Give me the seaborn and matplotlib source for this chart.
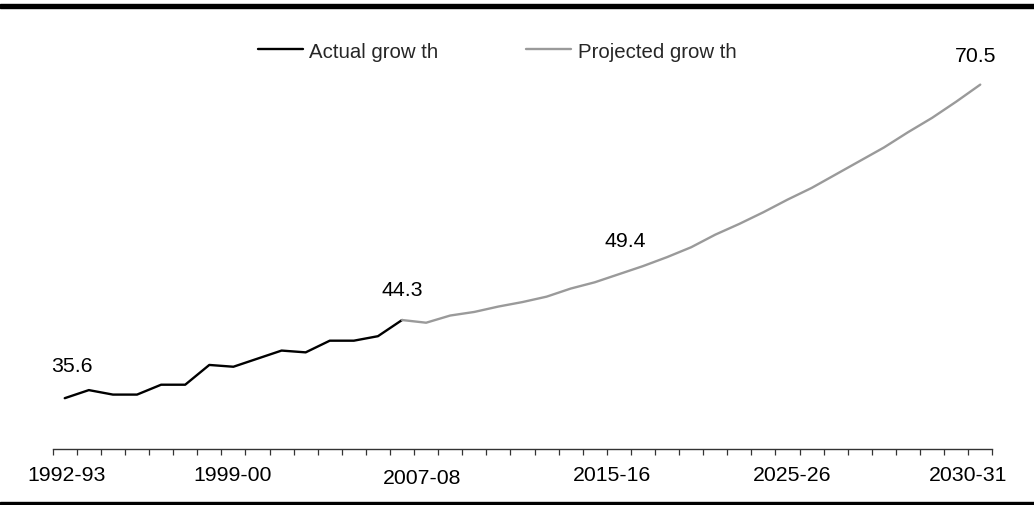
import numpy as np
import pandas as pd
import matplotlib
matplotlib.use("Agg")
import matplotlib.pyplot as plt
import matplotlib.transforms as mtransforms
from matplotlib.lines import Line2D
from matplotlib.patches import Rectangle
import seaborn as sns

# Annual values: recorded series up to 2006-07, projection afterwards
actual_growth = [35.6, 36.5, 36.0, 36.0, 37.1, 37.1, 39.3, 39.1, 40.0, 40.9,
                 40.7, 42.0, 42.0, 42.5, 44.3]
projected_growth = [44.3, 44.0, 44.8, 45.2, 45.8, 46.3, 46.9, 47.8, 48.5, 49.4,
                    50.3, 51.3, 52.4, 53.8, 55.0, 56.3, 57.7, 59.0, 60.5, 62.0,
                    63.5, 65.2, 66.8, 68.6, 70.5]
tick_labels = ["1992-93", "1999-00", "2007-08", "2015-16", "2025-26", "2030-31"]
series_names = ["Actual grow th", "Projected grow th"]

# Layout settings (category slots along the axis)
n_periods = len(actual_growth) + len(projected_growth) - 1
proj_start = len(actual_growth) - 1
label_slots = [0.08, 6.98, 14.84, 22.72, 30.19, 37.5]
callouts = {0: (7, 33), proj_start: (0, 31), 23: (6, 34), n_periods - 1: (-5, 29)}

df = pd.concat([
    pd.DataFrame({"period": np.arange(len(actual_growth)),
                  "value": actual_growth, "series": series_names[0]}),
    pd.DataFrame({"period": np.arange(proj_start, n_periods),
                  "value": projected_growth, "series": series_names[1]}),
], ignore_index=True)
all_values = actual_growth[:-1] + projected_growth

sns.set_style("white")
plt.rcParams["font.family"] = ["Liberation Sans", "DejaVu Sans"]
FS = 15.3

fig = plt.figure(figsize=(10.34, 5.06), dpi=100)
ax = fig.add_axes([52.7 / 1034, (506 - 449.5) / 506,
                   (992.3 - 52.7) / 1034, (449.5 - 45.2) / 506])

palette = {series_names[0]: "#000000", series_names[1]: "#9a9a9a"}
sns.lineplot(data=df, x="period", y="value", hue="series", palette=palette,
             linewidth=1.7, ax=ax, legend=False, sort=False)

ax.set_xlim(-0.5, n_periods - 0.5)
ax.set_ylim(30, 75)

# Value callouts
for idx, (dx, dy) in callouts.items():
    ax.annotate(f"{all_values[idx]:.1f}", xy=(idx, all_values[idx]),
                xytext=(dx, dy), textcoords="offset pixels",
                ha="center", va="center", fontsize=FS, color="#000000")

# Axis styling: only the bottom axis with tick marks between categories
for side in ["top", "right", "left"]:
    ax.spines[side].set_visible(False)
ax.spines["bottom"].set_color("#333333")
ax.spines["bottom"].set_linewidth(1.0)
ax.set_yticks([])
ax.xaxis.remove_overlapping_locs = False
ax.set_xticks(np.arange(n_periods + 1) - 0.5)
ax.set_xticklabels([])
ax.tick_params(axis="x", which="major", direction="out", length=4.2,
               width=0.9, color="#333333", bottom=True)
ax.set_xticks(label_slots, minor=True)
ax.set_xticklabels(tick_labels, minor=True)
ax.tick_params(axis="x", which="minor", length=0, pad=11.8, labelsize=FS,
               labelcolor="#000000", bottom=True)
for lbl in ax.get_xticklabels(minor=True):
    if lbl.get_text() == "2007-08":
        lbl.set_transform(lbl.get_transform() +
                          mtransforms.ScaledTranslation(0, -3 / 100, fig.dpi_scale_trans))
ax.set_xlabel("")
ax.set_ylabel("")

# Legend
handles = [Line2D([], [], color=palette[n], linewidth=1.7) for n in series_names]
fig.legend(handles, series_names, loc="center", ncol=2, frameon=False,
           bbox_to_anchor=(0.481, (506 - 52) / 506), fontsize=14.7,
           handlelength=2.2, handletextpad=0.3, columnspacing=4.3)

# Heavy rules at the top and bottom of the figure
fig.patches.append(Rectangle((0, (506 - 9) / 506), 1, 4 / 506,
                             transform=fig.transFigure, color="#000000", zorder=5))
fig.patches.append(Rectangle((0, 0), 1, 3.5 / 506,
                             transform=fig.transFigure, color="#000000", zorder=5))

fig.savefig("out.png", dpi=100)
